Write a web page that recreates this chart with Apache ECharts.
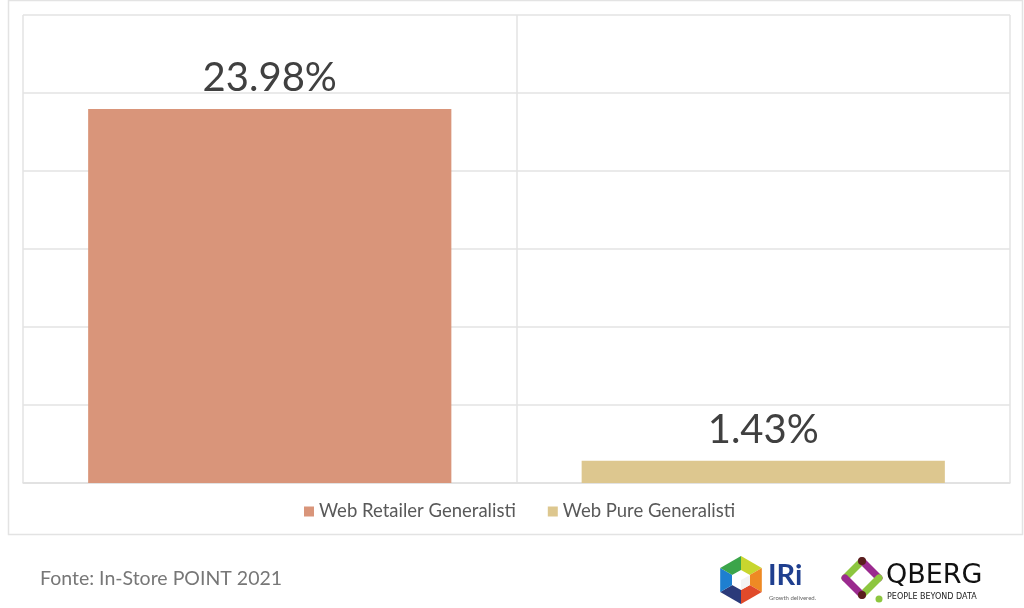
<!DOCTYPE html>
<html><head><meta charset="utf-8">
<script src="https://cdn.jsdelivr.net/npm/echarts@6/dist/echarts.min.js"></script>
<style>html,body{margin:0;padding:0;background:#fff}#c{width:1024px;height:608px}</style>
</head><body><div id="c"></div>
<script>
var categories = ['Web Retailer Generalisti', 'Web Pure Generalisti'];
var seriesNames = ['Web Retailer Generalisti', 'Web Pure Generalisti'];
var retailerValues = [23.98, '-'];
var pureValues = ['-', 1.43];
var colors = ['#D9957A', '#DDC78F'];
var footnote = 'Fonte: In-Store POINT 2021';

var chart = echarts.init(document.getElementById('c'));
var font = 'Lato, "Noto Sans", sans-serif';
function hexPts(cx, cy, r, i) {
  var a1 = Math.PI / 180 * (-90 + 60 * i), a2 = Math.PI / 180 * (-30 + 60 * i);
  return [[cx, cy], [cx + r * Math.cos(a1), cy + r * Math.sin(a1)], [cx + r * Math.cos(a2), cy + r * Math.sin(a2)]];
}
var hexColors = ['#C8D62E', '#EE8A24', '#E04A2A', '#2B3A7A', '#1E7FD0', '#3BA54A'];
var graphics = [
  {type: 'rect', shape: {x: 8.5, y: 0.5, width: 1014, height: 534}, style: {fill: 'none', stroke: '#E3E3E3', lineWidth: 1.5}, silent: true},
  {type: 'text', left: 40, top: 569, style: {text: footnote, font: '19.5px ' + font, fill: '#777777'}}
];
for (var i = 0; i < 6; i++) {
  graphics.push({type: 'polygon', shape: {points: hexPts(741, 580, 24, i)}, style: {fill: hexColors[i]}});
}
graphics.push({type: 'polygon', shape: {points: [[741, 570], [750, 575], [750, 585], [741, 590], [732, 585], [732, 575]]}, style: {fill: '#ffffff'}});
graphics.push({type: 'polygon', shape: {points: [[741, 580], [750, 575], [750, 585], [741, 590]]}, style: {fill: '#F3F3F3'}});
graphics.push({type: 'text', left: 768, top: 561, style: {text: 'IRi', font: 'bold 29px ' + font, fill: '#1F3F8F'}});
graphics.push({type: 'text', left: 769, top: 595, style: {text: 'Growth delivered.', font: '6px ' + font, fill: '#666'}});
// QBERG mark
graphics.push({type: 'line', shape: {x1: 845, y1: 578, x2: 862, y2: 561}, style: {stroke: '#8DC63F', lineWidth: 7, lineCap: 'round'}});
graphics.push({type: 'line', shape: {x1: 862, y1: 561, x2: 879, y2: 578}, style: {stroke: '#9B2A8F', lineWidth: 7, lineCap: 'round'}});
graphics.push({type: 'line', shape: {x1: 879, y1: 578, x2: 862, y2: 595}, style: {stroke: '#8DC63F', lineWidth: 7, lineCap: 'round'}});
graphics.push({type: 'line', shape: {x1: 862, y1: 595, x2: 845, y2: 578}, style: {stroke: '#9B2A8F', lineWidth: 7, lineCap: 'round'}});
graphics.push({type: 'circle', shape: {cx: 862, cy: 561, r: 4}, style: {fill: '#5A1E1E'}});
graphics.push({type: 'circle', shape: {cx: 862, cy: 595, r: 4}, style: {fill: '#5A1E1E'}});
graphics.push({type: 'circle', shape: {cx: 879, cy: 599, r: 3.5}, style: {fill: '#8DC63F'}});
graphics.push({type: 'text', left: 886, top: 562, style: {text: 'QBERG', font: '27px "DejaVu Sans", sans-serif', fill: '#111'}});
graphics.push({type: 'text', left: 887, top: 593, style: {text: 'PEOPLE BEYOND DATA', font: '8px "DejaVu Sans", sans-serif', fill: '#222'}});

var labelStyle = {show: true, position: 'top', distance: 11, fontFamily: font, fontWeight: 'normal', fontSize: 40, color: '#404040',
  formatter: function (p) { return p.value.toFixed(2) + '%'; }};

chart.setOption({
  animation: false,
  color: colors,
  grid: {left: 23, right: 14, top: 15, bottom: 125, containLabel: false},
  legend: {bottom: 82, left: 299, itemWidth: 10, itemHeight: 10, itemGap: 32, icon: 'rect',
    textStyle: {fontFamily: font, fontSize: 18.5, color: '#595959'}, data: seriesNames},
  xAxis: {type: 'category', data: categories, axisLabel: {show: false}, axisTick: {show: false},
    axisLine: {show: true, lineStyle: {color: '#E0E0E0', width: 1.5}},
    splitLine: {show: true, lineStyle: {color: '#E3E3E3', width: 1.5}}},
  yAxis: {type: 'value', min: 0, max: 30, interval: 5, axisLabel: {show: false}, axisLine: {show: false}, axisTick: {show: false},
    splitLine: {lineStyle: {color: '#E3E3E3', width: 1.5}}},
  series: [
    {name: seriesNames[0], type: 'bar', stack: 's', data: retailerValues, barWidth: '73.6%', label: labelStyle},
    {name: seriesNames[1], type: 'bar', stack: 's', data: pureValues, barWidth: '73.6%', label: labelStyle}
  ],
  graphic: graphics
});
</script></body></html>
